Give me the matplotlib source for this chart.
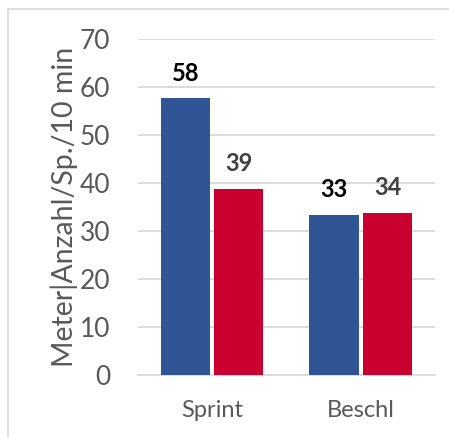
import numpy as np
import matplotlib
matplotlib.use("Agg")
import matplotlib.pyplot as plt
from matplotlib.patches import Rectangle

categories = ["Sprint", "Beschl"]
blue_vals = [57.6, 33.4]
red_vals = [38.7, 33.7]
blue_label_colors = ["#000000", "#000000"]
red_label_colors = ["#404040", "#404040"]
yticks = [0, 10, 20, 30, 40, 50, 60, 70]

plt.rcParams["font.family"] = ["Lato", "DejaVu Sans"]

fig = plt.figure(figsize=(4.49, 4.37), dpi=100)
ax = fig.add_axes([0.307, 0.142, 0.662, 0.769])

x = np.arange(len(categories))
w = 0.33
off = 0.18
bb = ax.bar(x - off, blue_vals, w, color="#2F5597", zorder=3)
rb = ax.bar(x + off, red_vals, w, color="#C9002F", zorder=3)

for bars, vals, cols in [(bb, blue_vals, blue_label_colors), (rb, red_vals, red_label_colors)]:
    for b, v, c in zip(bars, vals, cols):
        ax.annotate(f"{round(v):d}", (b.get_x() + b.get_width() / 2, v),
                    xytext=(0, 10), textcoords="offset points",
                    ha="center", va="bottom", fontsize=17, fontweight="bold", color=c)

ax.set_xlim(-0.5, 1.5)
ax.set_ylim(0, 70)
ax.set_yticks(yticks)
ax.set_xticks(x)
ax.set_xticklabels(categories)
ax.tick_params(axis="y", length=0, pad=20, labelsize=19, labelcolor="#595959")
ax.tick_params(axis="x", length=0, pad=18, labelsize=17, labelcolor="#595959")
ax.grid(axis="y", color="#D9D9D9", linewidth=1.3, zorder=0)
for s in ["top", "right", "left"]:
    ax.spines[s].set_visible(False)
ax.spines["bottom"].set_color("#D9D9D9")
ax.spines["bottom"].set_linewidth(1.3)

ax.set_ylabel("Meter|Anzahl/Sp./10 min", fontsize=20.5, color="#595959", labelpad=1)

# light frame around the chart area
fig.patches.append(Rectangle((8 / 449, -0.05), 1.1, 1 - 9 / 437 + 0.05, transform=fig.transFigure,
                             fill=False, edgecolor="#D9D9D9", linewidth=1.2))

fig.savefig("out.png", dpi=100)
